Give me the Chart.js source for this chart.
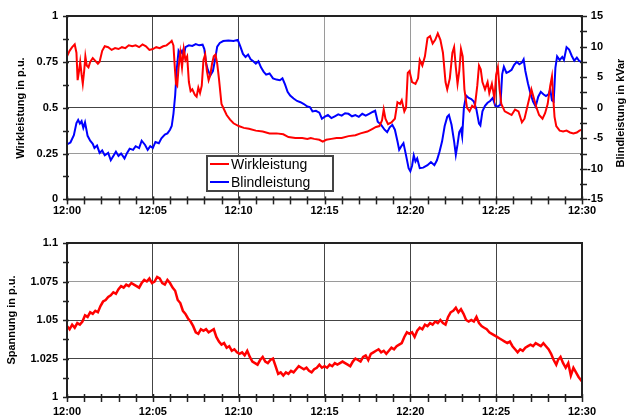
<!DOCTYPE html>
<html>
<head>
<meta charset="utf-8">
<script src="https://cdn.jsdelivr.net/npm/chart.js@4"></script>
<style>
  html, body { margin: 0; padding: 0; background: #fff; }
  body { width: 627px; height: 417px; position: relative; overflow: hidden; }
  .panel { position: absolute; left: 0; width: 627px; }
  #top { top: 0; height: 215px; }
  #bottom { top: 225px; height: 192px; }
</style>
</head>
<body>
<div class="panel" id="top"><canvas id="powerChart"></canvas></div>
<div class="panel" id="bottom"><canvas id="voltageChart"></canvas></div>
<script>
// time axis in minutes after 12:00
const timeLabels = ['12:00', '12:05', '12:10', '12:15', '12:20', '12:25', '12:30'];

// Wirkleistung (p.u., left axis of the upper panel)
const wirkTime = [0, 0.15, 0.3, 0.45, 0.55, 0.62, 0.7, 0.77, 0.85, 0.92, 1.0, 1.07, 1.15, 1.25, 1.35, 1.5, 1.65, 1.8, 1.9, 2.05,
  2.2, 2.4, 2.6, 2.8, 3.0, 3.2, 3.4, 3.6, 3.8, 4.0, 4.2, 4.4, 4.6, 4.8, 5.0, 5.2, 5.4, 5.6, 5.8, 6.0,
  6.1, 6.2, 6.28, 6.35, 6.42, 6.5, 6.6, 6.7, 6.8, 6.9, 7.0, 7.1, 7.2, 7.3, 7.45, 7.55, 7.65, 7.75, 7.85, 7.95,
  8.05, 8.15, 8.25, 8.35, 8.45, 8.55, 8.65, 8.75, 8.85, 9.0, 9.15, 9.3, 9.5, 9.7, 10.0, 10.3, 10.6, 11.0, 11.4, 11.8,
  12.2, 12.6, 12.9, 13.3, 13.7, 14.0, 14.2, 14.4, 14.7, 14.9, 15.1, 15.4, 15.7, 16.0, 16.4, 16.8, 17.1, 17.5, 17.8, 18.0,
  18.2, 18.35, 18.45, 18.55, 18.7, 18.9, 19.1, 19.25, 19.4, 19.5, 19.65, 19.75, 19.85, 19.95, 20.1, 20.3, 20.45, 20.55, 20.7, 20.85,
  21.0, 21.15, 21.3, 21.45, 21.6, 21.75, 21.9, 22.05, 22.15, 22.3, 22.45, 22.55, 22.65, 22.75, 22.85, 22.95, 23.05, 23.15, 23.3, 23.45,
  23.6, 23.75, 23.9, 24.0, 24.1, 24.2, 24.35, 24.5, 24.6, 24.75, 24.9, 25.0, 25.1, 25.2, 25.3, 25.5, 25.7, 25.9, 26.1, 26.3,
  26.5, 26.65, 26.8, 26.95, 27.05, 27.2, 27.35, 27.5, 27.7, 27.85, 28.0, 28.15, 28.25, 28.32, 28.4, 28.5, 28.7, 28.9, 29.1, 29.3,
  29.5, 29.7, 29.85, 30.0];
const wirkValues = [0.78, 0.81, 0.83, 0.845, 0.80, 0.65, 0.70, 0.75, 0.68, 0.63, 0.70, 0.78, 0.73, 0.72, 0.75, 0.77, 0.755, 0.74, 0.75, 0.81,
  0.835, 0.83, 0.815, 0.825, 0.82, 0.83, 0.825, 0.84, 0.835, 0.84, 0.83, 0.845, 0.835, 0.815, 0.82, 0.83, 0.825, 0.835, 0.84, 0.855,
  0.865, 0.84, 0.72, 0.63, 0.62, 0.72, 0.80, 0.72, 0.82, 0.76, 0.78, 0.64, 0.59, 0.60, 0.57, 0.56, 0.61, 0.58, 0.62, 0.76,
  0.79, 0.70, 0.65, 0.68, 0.74, 0.78, 0.79, 0.74, 0.66, 0.52, 0.49, 0.46, 0.435, 0.415, 0.40, 0.39, 0.385, 0.375, 0.37, 0.36,
  0.36, 0.355, 0.34, 0.335, 0.335, 0.33, 0.335, 0.33, 0.325, 0.315, 0.325, 0.33, 0.335, 0.335, 0.345, 0.35, 0.36, 0.37, 0.385, 0.395,
  0.40, 0.43, 0.49, 0.44, 0.41, 0.42, 0.44, 0.53, 0.52, 0.54, 0.48, 0.50, 0.69, 0.70, 0.64, 0.63, 0.66, 0.76, 0.73, 0.78,
  0.88, 0.89, 0.85, 0.87, 0.905, 0.87, 0.80, 0.64, 0.60, 0.66, 0.80, 0.83, 0.72, 0.63, 0.70, 0.82, 0.78, 0.60, 0.50, 0.48,
  0.51, 0.50, 0.62, 0.73, 0.71, 0.64, 0.60, 0.64, 0.58, 0.63, 0.55, 0.68, 0.72, 0.60, 0.52, 0.48, 0.47, 0.46, 0.49, 0.48,
  0.42, 0.44, 0.50, 0.56, 0.60, 0.55, 0.50, 0.46, 0.44, 0.47, 0.52, 0.62, 0.67, 0.56, 0.45, 0.40, 0.375, 0.37, 0.375, 0.365,
  0.36, 0.365, 0.375, 0.38];

// Blindleistung (kVar, right axis of the upper panel)
const blindTime = [0, 0.2, 0.4, 0.55, 0.65, 0.75, 0.85, 0.95, 1.05, 1.2, 1.35, 1.5, 1.6, 1.75, 1.9, 2.05, 2.2, 2.4, 2.55, 2.7,
  2.85, 3.0, 3.15, 3.35, 3.5, 3.65, 3.85, 4.0, 4.2, 4.35, 4.55, 4.7, 4.85, 5.0, 5.15, 5.35, 5.5, 5.7, 5.85, 6.0,
  6.1, 6.2, 6.3, 6.4, 6.5, 6.6, 6.7, 6.8, 6.9, 7.1, 7.3, 7.5, 7.7, 7.9, 8.0, 8.1, 8.2, 8.35, 8.5, 8.6,
  8.75, 8.9, 9.1, 9.4, 9.7, 9.95, 10.1, 10.25, 10.4, 10.55, 10.7, 10.85, 11.0, 11.15, 11.3, 11.45, 11.6, 11.8, 12.0, 12.2,
  12.4, 12.55, 12.7, 12.85, 13.0, 13.2, 13.4, 13.6, 13.8, 14.0, 14.15, 14.3, 14.5, 14.7, 14.85, 15.0, 15.2, 15.4, 15.6, 15.8,
  16.0, 16.2, 16.4, 16.6, 16.8, 17.0, 17.2, 17.4, 17.6, 17.8, 17.95, 18.1, 18.3, 18.5, 18.65, 18.8, 18.95, 19.1, 19.25, 19.35,
  19.5, 19.6, 19.75, 19.9, 20.0, 20.1, 20.2, 20.3, 20.4, 20.55, 20.75, 21.0, 21.2, 21.4, 21.55, 21.7, 21.85, 22.0, 22.15, 22.25,
  22.4, 22.55, 22.65, 22.75, 22.85, 22.95, 23.02, 23.12, 23.25, 23.4, 23.55, 23.7, 23.85, 24.0, 24.08, 24.2, 24.35, 24.5, 24.65, 24.8,
  24.95, 25.1, 25.25, 25.35, 25.45, 25.6, 25.75, 25.9, 26.05, 26.2, 26.35, 26.5, 26.6, 26.7, 26.85, 27.0, 27.15, 27.3, 27.45, 27.6,
  27.75, 27.9, 28.05, 28.15, 28.25, 28.35, 28.45, 28.55, 28.7, 28.85, 28.95, 29.1, 29.25, 29.4, 29.55, 29.7, 29.85, 30.0];
const blindValues = [-6.0, -5.7, -4.5, -2.5, -2.0, -2.6, -2.2, -3.3, -2.4, -4.6, -5.4, -5.9, -6.6, -6.2, -7.4, -7.0, -7.8, -7.4, -8.6, -7.9,
  -7.2, -7.9, -7.5, -8.3, -7.4, -6.7, -6.9, -6.3, -6.6, -5.4, -6.1, -6.9, -6.3, -6.6, -5.6, -5.8, -5.0, -4.4, -4.2, -3.6,
  -3.0, -1.0, 2.0, 6.5, 9.3, 8.8, 9.3, 8.4, 9.9, 10.2, 10.1, 10.4, 10.2, 10.3, 9.6, 7.3, 6.2, 5.3, 6.0, 7.5,
  10.0, 10.6, 10.9, 11.0, 10.9, 11.1, 10.0, 8.8, 8.3, 8.7, 7.9, 7.6, 7.2, 7.6, 6.6, 5.9, 5.4, 5.6, 4.8, 4.6,
  4.5, 4.8, 3.8, 2.6, 2.0, 1.5, 1.1, 0.9, 0.6, 0.2, 0.1, -0.6, -0.5, -0.8, -1.8, -1.5, -1.2, -1.7, -1.4, -1.1,
  -1.3, -0.9, -1.0, -1.4, -1.2, -1.5, -1.0, -1.3, -1.0, -0.7, -0.5, -2.3, -2.8, -3.6, -4.0, -3.2, -2.8, -3.6, -5.5, -6.9,
  -6.2, -5.8, -7.8, -9.9, -10.4, -9.5, -7.8, -8.8, -8.3, -9.9, -9.8, -9.4, -8.9, -9.4, -8.6, -7.2, -5.5, -3.0, -1.5, -1.2,
  -2.8, -5.5, -7.7, -6.0, -4.0, -3.5, -4.7, 0.0, 2.0, 1.6, 1.4, 1.0, -0.3, -2.6, -2.9, -0.6, 0.3, 0.8, 1.1, 1.6,
  0.3, 0.2, 0.5, 5.5, 6.7, 5.7, 5.9, 6.2, 7.0, 7.5, 7.1, 7.4, 7.9, 6.0, 4.0, 2.3, 1.0, 0.2, 1.8, 2.6,
  2.2, 1.9, 2.2, 3.0, 1.2, 1.0, 6.5, 8.4, 7.8, 8.3, 7.8, 9.9, 9.5, 8.5, 7.7, 8.2, 7.6, 7.5];

// Spannung (p.u., lower panel)
const spannTime = [0, 0.15, 0.3, 0.45, 0.6, 0.75, 0.9, 1.05, 1.2, 1.35, 1.5, 1.65, 1.8, 1.95, 2.1, 2.25, 2.4, 2.55, 2.7, 2.85,
  3.0, 3.15, 3.3, 3.45, 3.6, 3.75, 3.9, 4.05, 4.2, 4.35, 4.5, 4.65, 4.8, 4.95, 5.1, 5.25, 5.4, 5.55, 5.7, 5.85,
  6.0, 6.15, 6.3, 6.45, 6.6, 6.75, 6.9, 7.05, 7.2, 7.35, 7.5, 7.65, 7.8, 7.95, 8.1, 8.25, 8.4, 8.55, 8.7, 8.85,
  9.0, 9.15, 9.3, 9.45, 9.6, 9.75, 9.9, 10.05, 10.2, 10.35, 10.5, 10.65, 10.8, 10.95, 11.1, 11.25, 11.4, 11.55, 11.7, 11.85,
  12.0, 12.15, 12.3, 12.45, 12.6, 12.75, 12.9, 13.05, 13.2, 13.35, 13.5, 13.65, 13.8, 13.95, 14.1, 14.25, 14.4, 14.55, 14.7, 14.85,
  15.0, 15.15, 15.3, 15.45, 15.6, 15.75, 15.9, 16.05, 16.2, 16.35, 16.5, 16.65, 16.8, 16.95, 17.1, 17.25, 17.4, 17.55, 17.7, 17.85,
  18.0, 18.15, 18.3, 18.45, 18.6, 18.75, 18.9, 19.05, 19.2, 19.35, 19.5, 19.65, 19.8, 19.95, 20.1, 20.25, 20.4, 20.55, 20.7, 20.85,
  21.0, 21.15, 21.3, 21.45, 21.6, 21.75, 21.9, 22.05, 22.2, 22.35, 22.5, 22.65, 22.8, 22.95, 23.1, 23.25, 23.4, 23.55, 23.7, 23.85,
  24.0, 24.15, 24.3, 24.45, 24.6, 24.75, 24.9, 25.05, 25.2, 25.35, 25.5, 25.65, 25.8, 25.95, 26.1, 26.25, 26.4, 26.55, 26.7, 26.85,
  27.0, 27.15, 27.3, 27.45, 27.6, 27.75, 27.9, 28.05, 28.2, 28.35, 28.5, 28.6, 28.75, 28.9, 29.05, 29.2, 29.35, 29.5, 29.65, 29.8,
  30.0];
const spannValues = [1.046, 1.044, 1.047, 1.045, 1.048, 1.047, 1.049, 1.053, 1.052, 1.055, 1.054, 1.056, 1.055, 1.059, 1.062, 1.063, 1.065, 1.066, 1.068, 1.067,
  1.070, 1.072, 1.071, 1.073, 1.072, 1.074, 1.073, 1.072, 1.071, 1.074, 1.076, 1.075, 1.077, 1.074, 1.075, 1.078, 1.077, 1.074, 1.073, 1.076,
  1.074, 1.071, 1.069, 1.063, 1.061, 1.056, 1.054, 1.051, 1.049, 1.046, 1.042, 1.041, 1.044, 1.043, 1.044, 1.042, 1.043, 1.044, 1.039, 1.036,
  1.034, 1.035, 1.032, 1.033, 1.030, 1.031, 1.029, 1.028, 1.029, 1.027, 1.030, 1.026, 1.023, 1.022, 1.021, 1.024, 1.026, 1.023, 1.022, 1.024,
  1.025, 1.020, 1.015, 1.016, 1.014, 1.016, 1.015, 1.017, 1.016, 1.018, 1.020, 1.019, 1.018, 1.019, 1.017, 1.016, 1.018, 1.019, 1.021, 1.019,
  1.020, 1.019, 1.021, 1.020, 1.022, 1.021, 1.022, 1.023, 1.022, 1.021, 1.020, 1.023, 1.025, 1.024, 1.023, 1.026, 1.027, 1.024, 1.028, 1.029,
  1.030, 1.031, 1.029, 1.030, 1.028, 1.030, 1.032, 1.031, 1.033, 1.034, 1.035, 1.039, 1.042, 1.041, 1.042, 1.039, 1.043, 1.045, 1.044, 1.047,
  1.046, 1.048, 1.047, 1.049, 1.048, 1.050, 1.048, 1.047, 1.052, 1.055, 1.056, 1.058, 1.055, 1.057, 1.054, 1.050, 1.049, 1.050, 1.049, 1.052,
  1.048, 1.046, 1.045, 1.044, 1.042, 1.041, 1.040, 1.039, 1.038, 1.037, 1.036, 1.035, 1.036, 1.033, 1.031, 1.029, 1.031, 1.030, 1.032, 1.033,
  1.034, 1.033, 1.035, 1.034, 1.033, 1.035, 1.033, 1.031, 1.028, 1.024, 1.021, 1.024, 1.026, 1.022, 1.019, 1.022, 1.014, 1.019, 1.016, 1.013,
  1.010];

const FONT = 'Liberation Sans, Arial, sans-serif';
const tickFont = { family: FONT, size: 11, weight: 'bold' };

function points(times, values) {
  return times.map((t, i) => ({ x: t, y: values[i] }));
}

function near(a, b) { return Math.abs(a - b) < 1e-6; }

function plainNumber(v) { return String(Number(v.toFixed(4))); }

/**
 * Frame, minor/major tick marks, rotated axis titles and the boxed legend
 */
const decor = {
  id: 'decor',
  afterDatasetsDraw(chart) {
    const ctx = chart.ctx;
    const a = chart.chartArea;
    ctx.save();
    ctx.strokeStyle = '#222';
    ctx.lineWidth = 1.5;
    Object.values(chart.scales).forEach(scale => {
      const step = scale.options.minorStep;
      if (!step) return;
      const n = Math.round((scale.max - scale.min) / step);
      for (let i = 0; i <= n; i++) {
        const p = Math.round(scale.getPixelForValue(scale.min + i * step)) + 0.5;
        ctx.beginPath();
        if (scale.axis === 'x') {
          ctx.moveTo(p, a.bottom - 3); ctx.lineTo(p, a.bottom + 5);
        } else if (scale.position === 'left') {
          ctx.moveTo(a.left - 4, p); ctx.lineTo(a.left + 2, p);
        } else {
          ctx.moveTo(a.right - 2, p); ctx.lineTo(a.right + 5, p);
        }
        ctx.stroke();
      }
    });
    ctx.lineWidth = 2;
    ctx.strokeRect(a.left, a.top, a.right - a.left, a.bottom - a.top);
    ctx.restore();
  },
  afterDraw(chart, args, opts) {
    const ctx = chart.ctx;
    ctx.save();
    ctx.fillStyle = '#000';
    ctx.font = 'bold 11px ' + FONT;
    ctx.textAlign = 'center';
    ctx.textBaseline = 'middle';
    (opts.titles || []).forEach(t => {
      ctx.save();
      ctx.translate(t.x, t.y);
      ctx.rotate(-Math.PI / 2);
      ctx.fillText(t.text, 0, 0);
      ctx.restore();
    });
    const box = opts.legend;
    if (box) {
      ctx.fillStyle = '#fff';
      ctx.fillRect(box.x, box.y, box.w, box.h);
      ctx.strokeStyle = '#444';
      ctx.lineWidth = 2;
      ctx.strokeRect(box.x, box.y, box.w, box.h);
      ctx.font = '14px ' + FONT;
      ctx.textAlign = 'left';
      chart.data.datasets.forEach((ds, i) => {
        const y = box.y + 8 + i * 18;
        ctx.strokeStyle = ds.borderColor;
        ctx.lineWidth = 2;
        ctx.beginPath();
        ctx.moveTo(box.x + 3, y);
        ctx.lineTo(box.x + 22, y);
        ctx.stroke();
        ctx.fillStyle = '#000';
        ctx.fillText(ds.label, box.x + 24, y + 1);
      });
    }
    ctx.restore();
  }
};

function timeAxis(height, padding, lightAt) {
  return {
    type: 'linear',
    min: 0,
    max: 30,
    minorStep: 1,
    afterFit: s => { s.height = height; },
    border: { display: false },
    grid: {
      drawTicks: false,
      color: c => (c.tick && lightAt.includes(c.tick.value)) ? '#9a9a9a' : '#444'
    },
    ticks: {
      stepSize: 5,
      padding: padding,
      color: '#000',
      font: tickFont,
      maxRotation: 0,
      callback: v => timeLabels[Math.round(v / 5)]
    }
  };
}

const baseOptions = {
  responsive: true,
  maintainAspectRatio: false,
  animation: false,
  events: [],
  elements: { point: { radius: 0 }, line: { tension: 0, borderWidth: 2 } },
  plugins: { legend: { display: false }, tooltip: { enabled: false } }
};

new Chart(document.getElementById('powerChart'), {
  type: 'line',
  data: {
    datasets: [
      { label: 'Wirkleistung', data: points(wirkTime, wirkValues), borderColor: '#ff0000', yAxisID: 'y' },
      { label: 'Blindleistung', data: points(blindTime, blindValues), borderColor: '#0000ff', yAxisID: 'y2' }
    ]
  },
  options: {
    ...baseOptions,
    layout: { padding: { top: 16, right: 24, left: 0, bottom: 0 } },
    plugins: {
      ...baseOptions.plugins,
      decor: {
        titles: [
          { text: 'Wirkleistung in p.u.', x: 21, y: 108 },
          { text: 'Blindleistung in kVar', x: 621, y: 113 }
        ],
        legend: { x: 207, y: 156, w: 126, h: 35 }
      }
    },
    scales: {
      x: timeAxis(15, 5, [15, 20]),
      y: {
        position: 'left',
        min: 0,
        max: 1,
        minorStep: 0.125,
        afterFit: s => { s.width = 67; },
        border: { display: false },
        grid: {
          drawTicks: false,
          color: c => (c.tick && near(c.tick.value, 0.25)) ? '#9a9a9a' : '#444'
        },
        ticks: { stepSize: 0.25, padding: 9, color: '#000', font: tickFont, callback: plainNumber }
      },
      y2: {
        position: 'right',
        min: -15,
        max: 15,
        minorStep: 2.5,
        afterFit: s => { s.width = 21; },
        border: { display: false },
        grid: { display: false, drawTicks: false },
        ticks: { stepSize: 5, padding: 8, crossAlign: 'far', color: '#000', font: tickFont, callback: plainNumber }
      }
    }
  },
  plugins: [decor]
});

new Chart(document.getElementById('voltageChart'), {
  type: 'line',
  data: {
    datasets: [
      { label: 'Spannung', data: points(spannTime, spannValues), borderColor: '#ff0000', borderWidth: 2.5 }
    ]
  },
  options: {
    ...baseOptions,
    layout: { padding: { top: 18, right: 45, left: 0, bottom: 0 } },
    plugins: {
      ...baseOptions.plugins,
      decor: {
        titles: [{ text: 'Spannung in p.u.', x: 12, y: 95 }]
      }
    },
    scales: {
      x: timeAxis(20, 8, []),
      y: {
        min: 1,
        max: 1.1,
        minorStep: 0.0125,
        afterFit: s => { s.width = 67; },
        border: { display: false },
        grid: {
          drawTicks: false,
          color: c => (c.tick && near(c.tick.value, 1.075)) ? '#9a9a9a' : '#444'
        },
        ticks: { stepSize: 0.025, padding: 9, color: '#000', font: tickFont, callback: plainNumber }
      }
    }
  },
  plugins: [decor]
});
</script>
</body>
</html>
